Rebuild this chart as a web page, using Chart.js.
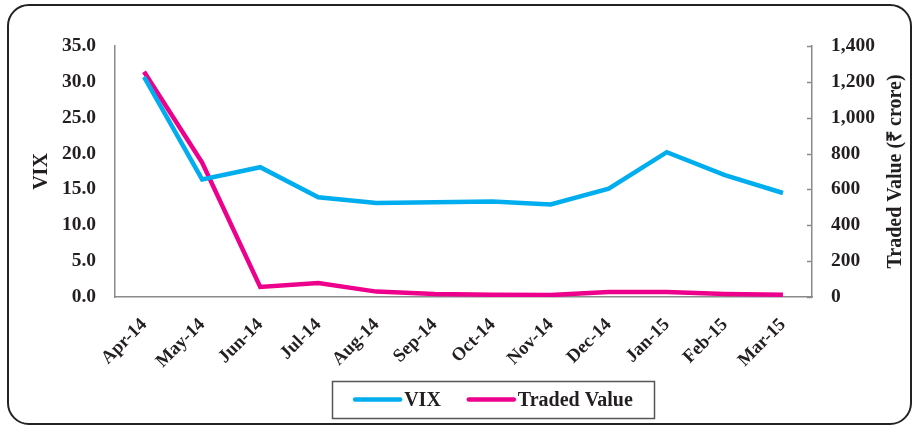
<!DOCTYPE html>
<html>
<head>
<meta charset="utf-8">
<title>VIX and Traded Value</title>
<script src="https://cdn.jsdelivr.net/npm/chart.js@4.4.0/dist/chart.umd.min.js"></script>
<style>
html, body { margin: 0; padding: 0; background: #fff; }
#wrap { position: relative; width: 915px; height: 427px; overflow: hidden; }
#frame { position: absolute; left: 7px; top: 4px; width: 905px; height: 421px;
         border: 2px solid #222; border-radius: 22px; box-sizing: border-box; }
#chart { position: absolute; left: 0; top: 0; }
</style>
</head>
<body>
<div id="wrap">
  <div id="frame"></div>
  <canvas id="chart" width="915" height="427"></canvas>
</div>
<script>
// months on the x axis
var months = ['Apr-14', 'May-14', 'Jun-14', 'Jul-14', 'Aug-14', 'Sep-14',
              'Oct-14', 'Nov-14', 'Dec-14', 'Jan-15', 'Feb-15', 'Mar-15'];
// India VIX (left axis)
var vix = [30.7, 16.4, 18.1, 13.9, 13.1, 13.2, 13.3, 12.9, 15.1, 20.2, 17.0, 14.5];
// traded value, ₹ crore (right axis)
var traded = [1256, 750, 56, 78, 30, 17, 13, 11, 28, 28, 17, 13];

var vixTicks = { min: 0, max: 35, step: 5 };
var tradedTicks = { min: 0, max: 1400, step: 200 };

var serif = "'Liberation Serif', 'Times New Roman', serif";
var ink = '#231f20';
var axisGrey = '#8a8a8a';
var blue = '#00aeef';
var pink = '#ec008c';

var decor = {
    id: 'decor',
    afterDraw: function (chart) {
        var ctx = chart.ctx;
        var a = chart.chartArea;
        var midY = (a.top + a.bottom) / 2;
        ctx.save();

        // inward tick marks on the right axis
        var y1 = chart.scales.y1;
        ctx.strokeStyle = axisGrey;
        ctx.lineWidth = 1.5;
        y1.ticks.forEach(function (t) {
            var py = Math.round(y1.getPixelForValue(t.value)) + 0.5;
            ctx.beginPath();
            ctx.moveTo(a.right - 5, py);
            ctx.lineTo(a.right, py);
            ctx.stroke();
        });

        // axis titles, both read bottom to top
        ctx.fillStyle = ink;
        ctx.font = 'bold 20px ' + serif;
        ctx.textAlign = 'center';
        ctx.textBaseline = 'middle';
        ctx.save();
        ctx.translate(42, midY);
        ctx.rotate(-Math.PI / 2);
        ctx.fillText('VIX', 0, 0);
        ctx.restore();
        ctx.save();
        ctx.translate(896, midY);
        ctx.rotate(-Math.PI / 2);
        ctx.fillText('Traded Value (\u20b9 crore)', 0, 0);
        ctx.restore();

        // boxed legend
        var lineLen = 45, gap = 4, itemGap = 28, padL = 23, padR = 21;
        var items = chart.data.datasets.map(function (ds) {
            return { label: ds.label, color: ds.borderColor, w: ctx.measureText(ds.label).width };
        });
        var total = padL + padR;
        items.forEach(function (it, i) {
            total += lineLen + gap + it.w + (i ? itemGap : 0);
        });
        var cx = 493, top = 381, h = 37;
        var x = cx - total / 2;
        ctx.strokeStyle = '#555';
        ctx.lineWidth = 1.5;
        ctx.strokeRect(Math.round(x) + 0.5, top + 0.5, Math.round(total), h);
        var ly = top + h / 2;
        x += padL;
        ctx.textAlign = 'left';
        items.forEach(function (it, i) {
            if (i) x += itemGap;
            ctx.strokeStyle = it.color;
            ctx.lineWidth = 4.5;
            ctx.lineCap = 'round';
            ctx.beginPath();
            ctx.moveTo(x, ly);
            ctx.lineTo(x + lineLen, ly);
            ctx.stroke();
            x += lineLen + gap;
            ctx.fillText(it.label, x, ly + 1);
            x += it.w;
        });
        ctx.restore();
    }
};

var tickFont = { family: serif, size: 19.5, weight: 'bold' };

new Chart(document.getElementById('chart'), {
    type: 'line',
    data: {
        labels: months,
        datasets: [
            {
                label: 'VIX',
                data: vix,
                yAxisID: 'y',
                borderColor: blue,
                backgroundColor: blue,
                borderWidth: 4.5,
                pointRadius: 0,
                tension: 0
            },
            {
                label: 'Traded Value',
                data: traded,
                yAxisID: 'y1',
                borderColor: pink,
                backgroundColor: pink,
                borderWidth: 4.5,
                pointRadius: 0,
                tension: 0
            }
        ]
    },
    options: {
        responsive: false,
        animation: false,
        devicePixelRatio: 1,
        layout: { autoPadding: false, padding: { top: 46, left: 0, right: 0, bottom: 0 } },
        plugins: { legend: { display: false }, tooltip: { enabled: false } },
        scales: {
            x: {
                offset: true,
                grid: { display: false },
                border: { display: true, color: axisGrey, width: 1.5 },
                ticks: { color: ink, font: { family: serif, size: 18.5, weight: 'bold' },
                         minRotation: 45, maxRotation: 45, padding: 9, autoSkip: false },
                afterFit: function (s) { s.height = 130; }
            },
            y: {
                position: 'left',
                min: vixTicks.min,
                max: vixTicks.max,
                grid: { display: false },
                border: { display: true, color: axisGrey, width: 1.5 },
                ticks: { stepSize: vixTicks.step, color: ink, font: tickFont, padding: 11,
                         callback: function (v) { return v.toFixed(1); } },
                afterFit: function (s) { s.width = 115; }
            },
            y1: {
                position: 'right',
                min: tradedTicks.min,
                max: tradedTicks.max,
                grid: { display: false },
                border: { display: true, color: axisGrey, width: 1.5 },
                ticks: { stepSize: tradedTicks.step, color: ink, font: tickFont, padding: 11,
                         callback: function (v) { return v.toLocaleString('en-US'); } },
                afterFit: function (s) { s.width = 103; }
            }
        }
    },
    plugins: [decor]
});
</script>
</body>
</html>
